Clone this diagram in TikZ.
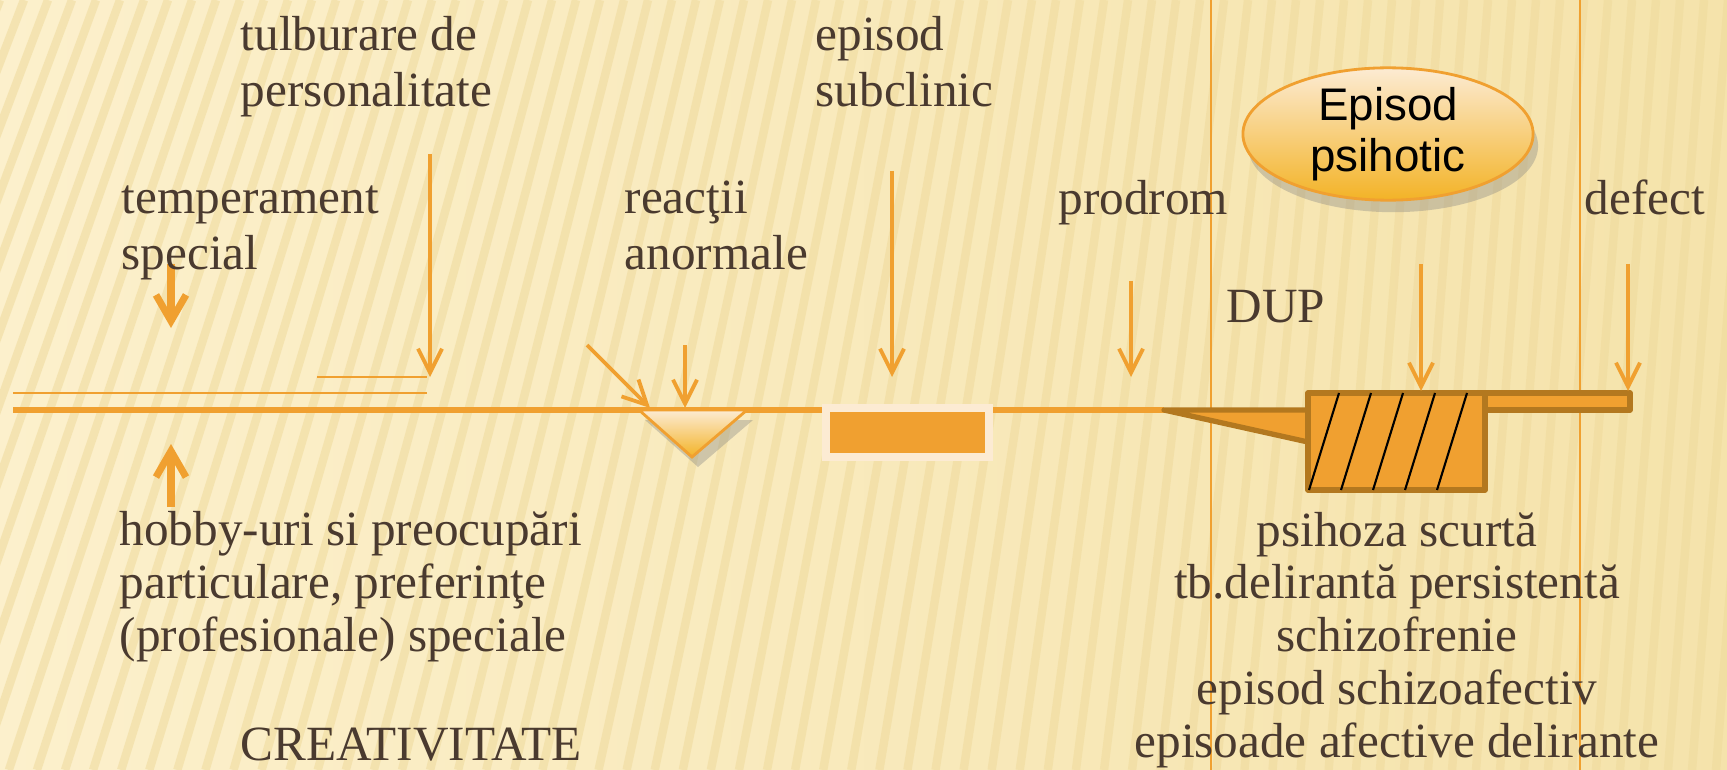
\documentclass[tikz,border=0pt]{standalone}
\usepackage{fontspec}
\setmainfont{Liberation Serif}
\newfontfamily\ovalfont{Liberation Sans}
\usepackage{tikz}
\usetikzlibrary{arrows.meta,positioning,shapes.geometric,shadows}
\definecolor{paper}{HTML}{FCF0CC}
\definecolor{paperdark}{HTML}{F5E3AB}
\definecolor{streak}{HTML}{EFDA9C}
\definecolor{amber}{HTML}{F0A030}
\definecolor{rust}{HTML}{B3781F}
\definecolor{ink}{HTML}{4A3A2F}
\definecolor{cream}{HTML}{FCEBD3}

\begin{document}
\begin{tikzpicture}[x=0.01cm,y=-0.01cm,
  lbl/.style={text=ink,font=\fontsize{14}{16.2}\selectfont,align=left,anchor=base west,inner sep=0pt},
  lowlbl/.style={lbl,font=\fontsize{14}{15}\selectfont},
  arr/.style={-{Straight Barb[length=2.4mm,width=2.4mm]},line width=1.1pt,draw=amber},
  fatarr/.style={-{Straight Barb[length=2.6mm,width=3mm]},line width=2pt,draw=amber},
  guide/.style={draw=amber,line width=0.6pt},
  timebar/.style={fill=amber,draw=rust,line width=1.5pt,line join=round},
  oval/.style={ellipse,draw=amber,line width=0.8pt,top color=cream,bottom color=amber!80!yellow,
    minimum width=2.9cm,minimum height=1.32cm,inner sep=0pt,align=center,
    font=\ovalfont\fontsize{13}{14.5}\selectfont,
    drop shadow={shadow xshift=0.5mm,shadow yshift=-1.2mm,opacity=0.35}}
]
\useasboundingbox (0,0) rectangle (1727,770);
\shade[left color=paper,right color=paperdark] (0,0) rectangle (1727,770);
\begin{scope}
  \clip (0,0) rectangle (1727,770);
  \foreach \i in {-5,...,80}{
    \pgfmathsetmacro\xt{\i*24}
    \pgfmathsetmacro\dx{max(60,300-0.17*\xt)}
    \draw[streak,line width=2.4pt,opacity=0.55] (\xt,0) -- (\xt-\dx,770);
  }
\end{scope}
\draw[guide] (1211,0) -- (1211,770);
\draw[guide] (1580,0) -- (1580,770);

\coordinate (start) at (13,410);
\coordinate (wtip) at (1164,410);
\draw[amber,line width=1.5pt] (start) -- (wtip);
\draw[guide] (13,393) -- (427,393);
\draw[guide] (317,377) -- (427,377);

\path[draw=amber,line width=0.8pt,top color=cream,bottom color=amber!80!yellow,
  drop shadow={shadow xshift=0.6mm,shadow yshift=-1mm,opacity=0.35}]
  (639,410) -- (747,410) -- (692,457) -- cycle;
\draw[cream,fill=amber,line width=2pt] (826,408) rectangle (989,457);

\draw[timebar] (wtip) -- (1308,410) -- (1308,442) -- cycle;
\draw[timebar] (1485,393) rectangle (1630,410);
\draw[timebar] (1308,393) rectangle (1485,490);
\foreach \k in {0,...,4}
  \draw[black,line width=0.6pt] (1309+32*\k,490) -- (1339+32*\k,393);

\coordinate (tempS) at (171,264);  \coordinate (tempE) at (171,328);
\coordinate (hobS) at (171,507);   \coordinate (hobE) at (171,444);
\coordinate (tulbS) at (430,154);  \coordinate (tulbE) at (430,377);
\coordinate (diagS) at (587,345);  \coordinate (diagE) at (650,408);
\coordinate (reactS) at (685,345); \coordinate (reactE) at (685,408);
\coordinate (subS) at (892,171);   \coordinate (subE) at (892,377);
\coordinate (prodS) at (1131,281); \coordinate (prodE) at (1131,377);
\coordinate (psiS) at (1421,264);  \coordinate (psiE) at (1421,391);
\coordinate (defS) at (1628,264);  \coordinate (defE) at (1628,391);
\draw[fatarr] (tempS) -- (tempE);
\draw[fatarr] (hobS) -- (hobE);
\draw[arr] (tulbS) -- (tulbE);
\draw[arr] (diagS) -- (diagE);
\draw[arr] (reactS) -- (reactE);
\draw[arr] (subS) -- (subE);
\draw[arr] (prodS) -- (prodE);
\draw[arr] (psiS) -- (psiE);
\draw[arr] (defS) -- (defE);

\node[lbl] (tulb) at (240,107) {tulburare de\\personalitate};
\node[lbl] (subcl) at (815,107) {episod\\subclinic};
\node[lbl] (temp) at (121,270) {temperament\\special};
\node[lbl] (react) at (624,270) {reacţii\\anormale};
\node[lbl] (prod) at (1058,215) {prodrom};
\node[lbl] (defect) at (1584,215) {defect};
\node[lbl] (dup) at (1226,323) {DUP};
\node[lowlbl] (hobby) at (119,651) {hobby-uri si preocupări\\particulare, preferinţe\\(profesionale) speciale};
\node[lbl] (creat) at (240,760) {CREATIVITATE};
\node[lowlbl,align=center,anchor=base] (forms) at (1397,757) {psihoza scurtă\\tb.delirantă persistentă\\schizofrenie\\episod schizoafectiv\\episoade afective delirante};
\node[oval] (psih) at (1388,134) {Episod\\psihotic};
\end{tikzpicture}
\end{document}
